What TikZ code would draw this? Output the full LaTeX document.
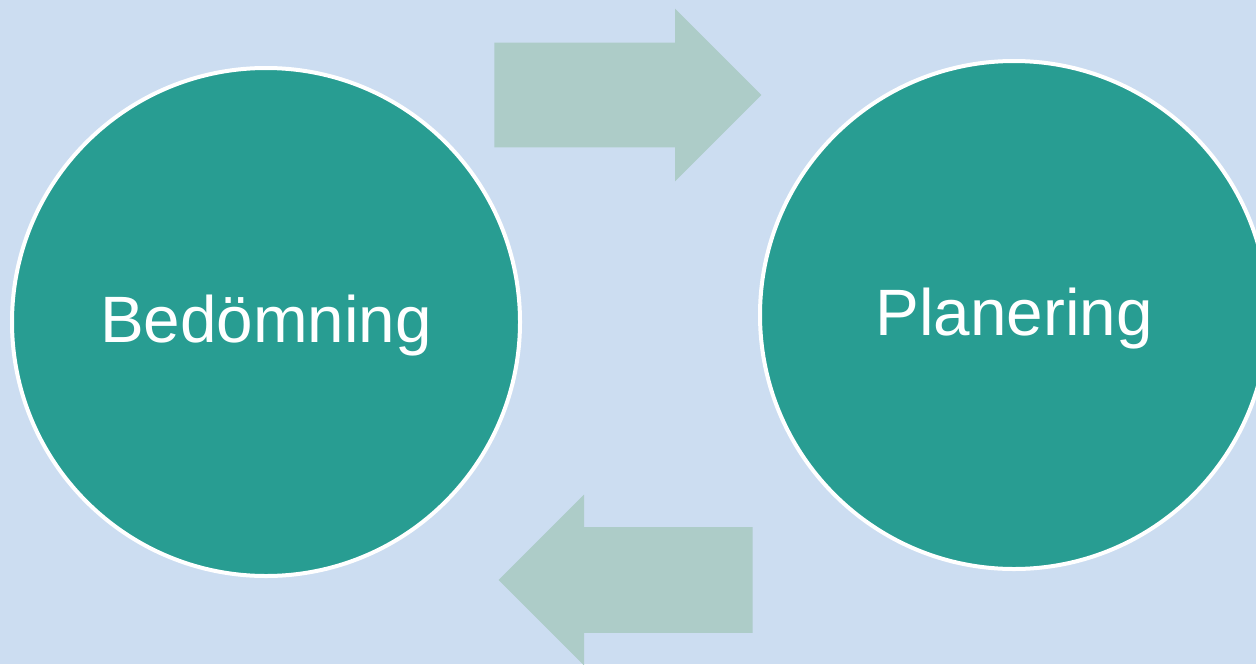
\documentclass[tikz,border=0pt]{standalone}
\usepackage{fontspec}
\setmainfont{Liberation Sans}
\usepackage{tikz}
\usetikzlibrary{calc, shapes, shapes.arrows, positioning}

\definecolor{bgblue}{HTML}{CCDDF1}
\definecolor{tealfill}{HTML}{289D92}
\definecolor{palegreen}{HTML}{ADCCC8}

\begin{document}
\begin{tikzpicture}[
  x=0.5pt, y=-0.5pt,
  mycircle/.style={
    circle,
    draw=white,
    line width=2pt,
    fill=tealfill,
    inner sep=0pt,
    minimum size=254pt,
    text=white,
    font=\fontsize{32.8}{38}\selectfont,
    text height=20.5pt,
    text depth=0pt
    },
  myarrow/.style={
    single arrow,
    fill=palegreen,
    inner sep=0pt,
    text width=0pt,
    text height=#1,
    text depth=0pt,
    single arrow tip angle=90,
    anchor=tail
    }
]

\fill[bgblue] (0,0) rectangle (1256,664);
\useasboundingbox (0,0) rectangle (1256,664);
\clip (0,0) rectangle (1256,664);

\node[mycircle] (bed) at (266,322) {Bedömning};
\node[mycircle] (plan) at (1014,315) {Planering};

\node[myarrow=52pt, single arrow head extend=17pt, minimum height=133.5pt]
  (fwd) at (494,95) {};
\node[myarrow=52.5pt, single arrow head extend=16.25pt, minimum height=127pt,
  shape border rotate=180]
  (back) at (753,580) {};

\end{tikzpicture}
\end{document}
